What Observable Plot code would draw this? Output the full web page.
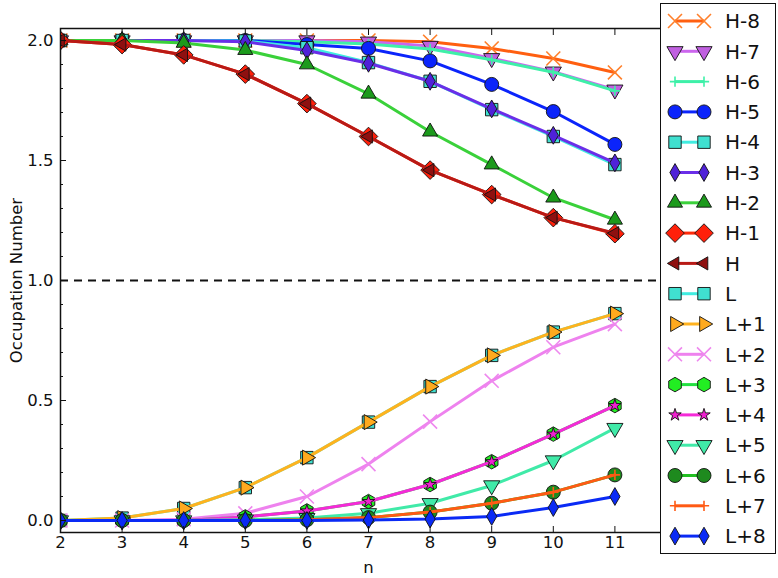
<!DOCTYPE html>
<html>
<head>
<meta charset="utf-8">
<script src="https://cdn.jsdelivr.net/npm/d3@7"></script>
<script src="https://cdn.jsdelivr.net/npm/@observablehq/plot@0.6"></script>
<style>
  html, body { margin: 0; padding: 0; background: #fff; }
  #wrap { position: relative; width: 778px; height: 578px; font-family: "DejaVu Sans", sans-serif; }
  #legend { position: absolute; left: 660px; top: 3px; width: 116px; height: 551px; border: 1.5px solid #111; background: #fff; box-sizing: border-box; }
</style>
</head>
<body>
<div id="wrap"><div id="chart"></div><div id="legend"></div></div>
<script>
// ---------- data ----------
const n = [2, 3, 4, 5, 6, 7, 8, 9, 10, 11];
const names = ["H-8","H-7","H-6","H-5","H-4","H-3","H-2","H-1","H","L","L+1","L+2","L+3","L+4","L+5","L+6","L+7","L+8"];
const H8 = [2.000, 2.000, 2.000, 2.000, 2.000, 2.000, 1.995, 1.967, 1.925, 1.867];
const H7 = [2.000, 2.000, 2.000, 2.000, 2.000, 1.995, 1.977, 1.926, 1.870, 1.795];
const H6 = [2.000, 2.000, 2.000, 2.000, 1.995, 1.985, 1.965, 1.920, 1.868, 1.790];
const H5 = [2.000, 2.000, 2.000, 2.000, 1.983, 1.967, 1.915, 1.817, 1.704, 1.567];
const H4 = [2.000, 2.000, 2.000, 1.998, 1.970, 1.908, 1.830, 1.712, 1.600, 1.483];
const H3 = [2.000, 2.000, 2.000, 1.995, 1.958, 1.905, 1.830, 1.715, 1.605, 1.490];
const H2 = [2.000, 2.000, 1.990, 1.960, 1.900, 1.778, 1.620, 1.483, 1.345, 1.253];
const H1 = [2.000, 1.983, 1.940, 1.860, 1.737, 1.600, 1.460, 1.358, 1.262, 1.195];
const H0 = [2.000, 1.983, 1.940, 1.860, 1.737, 1.600, 1.460, 1.358, 1.262, 1.197];
const L0 = [0.000, 0.010, 0.050, 0.137, 0.262, 0.410, 0.558, 0.688, 0.785, 0.862];
const L1 = [0.000, 0.010, 0.050, 0.137, 0.262, 0.410, 0.558, 0.688, 0.785, 0.862];
const L2 = [0.000, 0.000, 0.005, 0.030, 0.100, 0.235, 0.412, 0.582, 0.722, 0.818];
const L3 = [0.000, 0.000, 0.000, 0.015, 0.040, 0.079, 0.150, 0.245, 0.360, 0.479];
const L4 = [0.000, 0.000, 0.000, 0.015, 0.040, 0.079, 0.150, 0.245, 0.360, 0.479];
const L5 = [0.000, 0.000, 0.000, 0.003, 0.010, 0.030, 0.072, 0.146, 0.250, 0.385];
const L6 = [0.000, 0.000, 0.000, 0.000, 0.003, 0.012, 0.035, 0.072, 0.118, 0.190];
const L7 = [0.000, 0.000, 0.000, 0.000, 0.003, 0.012, 0.035, 0.072, 0.118, 0.190];
const L8 = [0.000, 0.000, 0.000, 0.000, 0.000, 0.002, 0.006, 0.017, 0.054, 0.100];
const seriesValues = [H8, H7, H6, H5, H4, H3, H2, H1, H0, L0, L1, L2, L3, L4, L5, L6, L7, L8];
const xTicks = [2, 3, 4, 5, 6, 7, 8, 9, 10, 11];
const yTicks = [0.0, 0.5, 1.0, 1.5, 2.0];
const yMinorTicks = d3.range(0, 21).map(d => d / 10);
const refLevel = [1.0];

// ---------- styles ----------
const hexagon = {
  draw(ctx, size) {
    const R = Math.sqrt(size / (1.5 * Math.sqrt(3)));
    for (let k = 0; k < 6; ++k) {
      const a = -Math.PI / 2 + k * Math.PI / 3;
      const x = R * Math.cos(a), y = R * Math.sin(a);
      if (k === 0) ctx.moveTo(x, y); else ctx.lineTo(x, y);
    }
    ctx.closePath();
  }
};
const symbols = [d3.symbolTimes, d3.symbolTriangle, d3.symbolPlus, d3.symbolCircle, d3.symbolSquare, d3.symbolDiamond,
  d3.symbolTriangle, d3.symbolDiamond2, d3.symbolTriangle, d3.symbolSquare, d3.symbolTriangle, d3.symbolTimes,
  hexagon, d3.symbolStar, d3.symbolTriangle, d3.symbolCircle, d3.symbolPlus, d3.symbolDiamond];
const rotations = [0, 180, 0, 0, 0, 0, 0, 0, -90, 0, 90, 0, 0, 0, 180, 0, 0, 0];
const sizes = [6.4, 6.0, 3.4, 7.0, 7.0, 5.4, 5.6, 8.4, 4.9, 7.0, 5.6, 6.4, 6.6, 3.9, 6.0, 7.0, 3.4, 5.4];
const strokeOnly = [true, false, true, false, false, false, false, false, false, false, false, true, false, false, false, false, true, false];
const lineColors = ["#ff5f10", "#cc66ee", "#3ef0a8", "#0b24fb", "#40ece0", "#6a2ee8", "#3ad13a", "#ff2a0a", "#b81a16",
  "#40ece0", "#ffb21e", "#ee82ee", "#22e040", "#f52ad8", "#40eaa8", "#22c022", "#ff5a14", "#0a2af5"];
const markerColors = ["#ff7f2a", "#c060e0", "#3ef0a8", "#0b24fb", "#40e0d0", "#4f22d8", "#1c9a1c", "#ff200a", "#8e1010",
  "#40e0d0", "#ffaa1e", "#ee88ee", "#22ee22", "#f020d0", "#40eaa8", "#1e8a1e", "#ff5a14", "#0a2af5"];

// ---------- chart ----------
const seriesMarks = seriesValues.flatMap((vals, i) => {
  const rows = n.map((x, j) => ({n: x, v: vals[j]}));
  return [
    Plot.line(rows, {x: "n", y: "v", stroke: lineColors[i], strokeWidth: 3, strokeLinejoin: "round", clip: true}),
    Plot.dot(rows, {
      x: "n", y: "v", symbol: symbols[i], r: sizes[i], rotate: rotations[i], clip: true,
      fill: strokeOnly[i] ? "none" : markerColors[i],
      stroke: strokeOnly[i] ? markerColors[i] : "#111",
      strokeWidth: strokeOnly[i] ? 1.6 : 0.9
    })
  ];
});

const chart = Plot.plot({
  width: 778,
  height: 578,
  marginLeft: 60,
  marginRight: 102,
  marginTop: 28,
  marginBottom: 46,
  style: {fontFamily: "DejaVu Sans, sans-serif", fontSize: "16px", color: "#111", background: "#fff"},
  x: {domain: [2, 12]},
  y: {domain: [-0.05, 2.05]},
  marks: [
    Plot.ruleY(refLevel, {stroke: "#111", strokeWidth: 2, strokeDasharray: "8,6"}),
    ...seriesMarks,
    Plot.frame({stroke: "#111", strokeWidth: 1.5}),
    Plot.axisX({anchor: "bottom", ticks: xTicks, tickSize: 0, tickPadding: 4, tickFormat: d => String(d), fontSize: 16.5,
      label: "n", labelAnchor: "center", labelArrow: "none", labelOffset: 40}),
    Plot.axisX({anchor: "bottom", ticks: xTicks, tickSize: -6, text: null, label: null, strokeWidth: 1}),
    Plot.axisX({anchor: "top", ticks: xTicks, tickSize: -6, text: null, label: null, strokeWidth: 1}),
    Plot.axisY({anchor: "left", ticks: yTicks, tickSize: 0, tickPadding: 7, tickFormat: d3.format(".1f"), fontSize: 16.5,
      label: "Occupation Number", labelAnchor: "center", labelArrow: "none", labelOffset: 50}),
    Plot.axisY({anchor: "left", ticks: yTicks, tickSize: -6, text: null, label: null}),
    Plot.axisY({anchor: "right", ticks: yTicks, tickSize: -6, text: null, label: null}),
    Plot.axisY({anchor: "left", ticks: yMinorTicks, tickSize: -3, text: null, label: null}),
    Plot.axisY({anchor: "right", ticks: yMinorTicks, tickSize: -3, text: null, label: null})
  ]
});
document.getElementById("chart").appendChild(chart);

// ---------- legend ----------
const lg = d3.select("#legend").append("svg").attr("width", 113).attr("height", 548)
  .style("font-family", "DejaVu Sans, sans-serif");
names.forEach((name, i) => {
  const y = 17 + i * 30.3;
  const g = lg.append("g").attr("transform", `translate(0,${y})`);
  g.append("line").attr("x1", 14).attr("x2", 43).attr("y1", 0).attr("y2", 0)
    .attr("stroke", lineColors[i]).attr("stroke-width", 3);
  const path = d3.symbol(symbols[i], Math.PI * sizes[i] * sizes[i])();
  [14, 43].forEach(cx => {
    g.append("path").attr("d", path)
      .attr("transform", `translate(${cx},0) rotate(${rotations[i]})`)
      .attr("fill", strokeOnly[i] ? "none" : markerColors[i])
      .attr("stroke", strokeOnly[i] ? markerColors[i] : "#111")
      .attr("stroke-width", strokeOnly[i] ? 1.6 : 0.9);
  });
  g.append("text").attr("x", 64).attr("y", 0).attr("dy", "0.36em")
    .attr("font-size", 20).attr("fill", "#111").text(name);
});
</script>
</body>
</html>
